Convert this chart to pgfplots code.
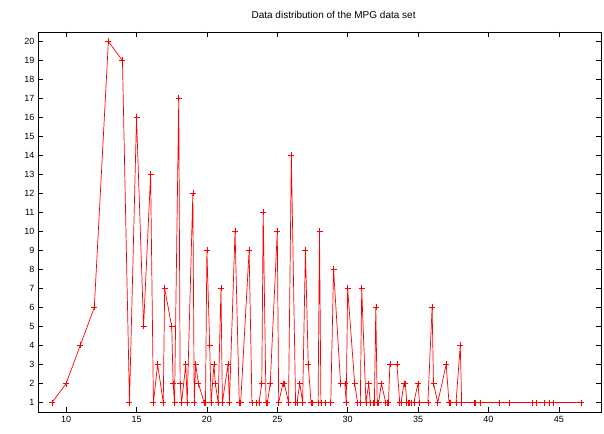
\documentclass[border=0pt]{standalone}
\usepackage{pgfplots}
\pgfplotsset{compat=1.18}
\usepackage{pgfplotstable}
\usepackage{fontspec}
\setmainfont{Liberation Sans}
\pgfplotstableread{
x y
9 1
10 2
11 4
12 6
13 20
14 19
14.5 1
15 16
15.5 5
16 13
16.2 1
16.5 3
16.9 1
17 7
17.5 5
17.6 2
17.7 1
18 17
18.1 2
18.2 1
18.5 3
18.6 1
19 12
19.1 1
19.2 3
19.4 2
19.8 1
19.9 1
20 9
20.2 4
20.3 1
20.5 3
20.6 2
20.8 1
21 7
21.1 1
21.5 3
21.6 1
22 10
22.3 1
22.4 1
23 9
23.2 1
23.5 1
23.7 1
23.9 2
24 11
24.2 1
24.3 1
24.5 2
25 10
25.1 1
25.4 2
25.5 2
25.8 1
26 14
26.3 1
26.4 1
26.6 2
26.8 1
27 9
27.2 3
27.4 1
27.5 1
27.9 1
28 10
28.1 1
28.4 1
28.8 1
29 8
29.5 2
29.8 2
29.9 1
30 7
30.5 2
30.7 1
30.9 1
31 7
31.3 1
31.5 2
31.6 1
31.8 1
31.9 1
32 6
32.1 1
32.2 1
32.4 2
32.7 1
32.8 1
32.9 1
33 3
33.5 3
33.7 1
33.8 1
34 2
34.1 2
34.2 1
34.3 1
34.4 1
34.5 1
34.7 1
35 2
35.1 1
35.7 1
36 6
36.1 2
36.4 1
37 3
37.2 1
37.3 1
37.7 1
38 4
38.1 1
39 1
39.1 1
39.4 1
40.8 1
41.5 1
43.1 1
43.4 1
44 1
44.3 1
44.6 1
46.6 1
}\mpgdata
\begin{document}
\begin{tikzpicture}
\useasboundingbox (-38pt,-21pt) rectangle (566pt,412pt);
\begin{axis}[
  at={(0,0)}, anchor=south west,
  scale only axis,
  width=563pt, height=380pt,
  xmin=8, xmax=48, ymin=0.5, ymax=20.5,
  xtick={10,15,...,45},
  ytick={1,2,...,20},
  tick align=inside,
  major tick length=5pt,
  tick style={black, line width=0.5pt},
  axis line style={black, line width=0.8pt},
  /pgf/number format/assume math mode=true,
  ticklabel style={font=\fontsize{9}{10}\selectfont},
  xticklabel style={yshift=-1pt},
  title={Data distribution of the MPG data set},
  title style={font=\fontsize{10}{11}\selectfont, at={(axis description cs:0.525,1)}, anchor=base, yshift=7pt},
]
\addplot[red, line width=0.7pt, mark=+, mark size=3pt, mark options={line width=0.6pt}] table[x=x,y=y] {\mpgdata};
\end{axis}
\end{tikzpicture}
\end{document}
